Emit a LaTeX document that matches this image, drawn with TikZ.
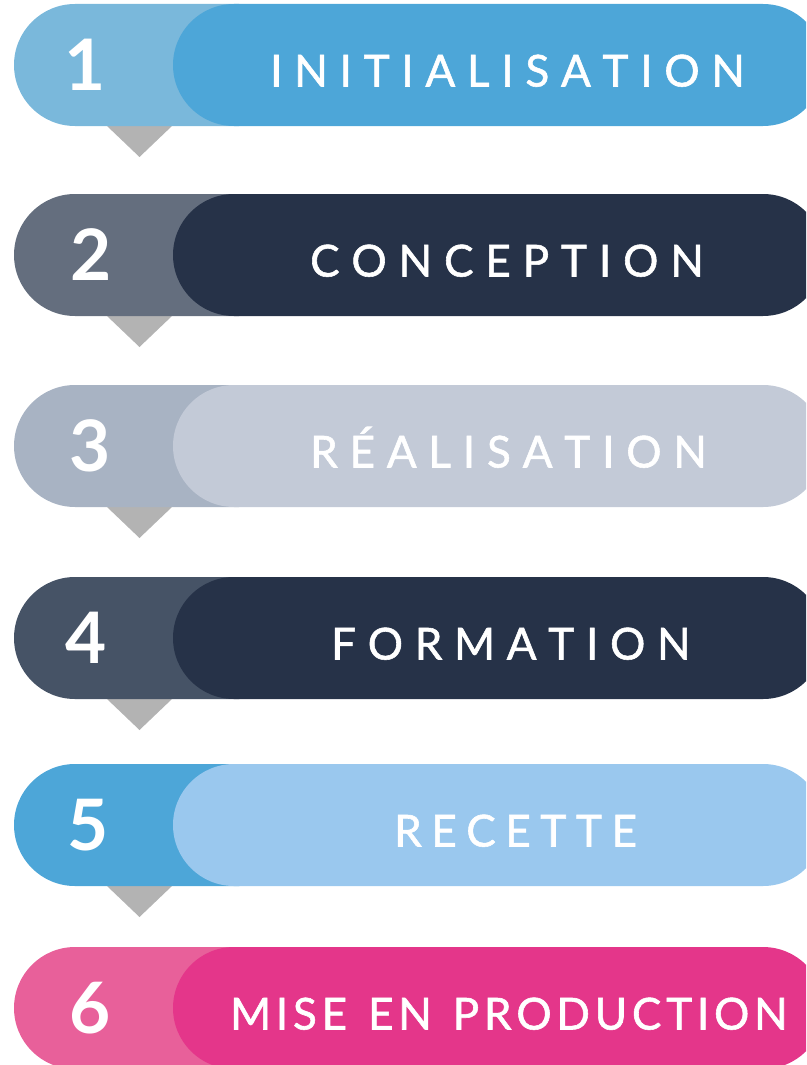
\documentclass[tikz,border=0pt]{standalone}
\usepackage{fontspec}
\setmainfont{Lato}
\newfontfamily\labfont[FakeBold=1.3]{Lato}
\newfontfamily\numfont{Lato Bold}
\definecolor{c1l}{HTML}{7AB8DB}\definecolor{c1r}{HTML}{4DA6D8}
\definecolor{c2l}{HTML}{646E7E}\definecolor{c2r}{HTML}{263248}
\definecolor{c3l}{HTML}{A8B3C3}\definecolor{c3r}{HTML}{C3CAD7}
\definecolor{c4l}{HTML}{465366}\definecolor{c4r}{HTML}{263248}
\definecolor{c5l}{HTML}{4DA6D8}\definecolor{c5r}{HTML}{9AC8EE}
\definecolor{c6l}{HTML}{E8609A}\definecolor{c6r}{HTML}{E4368A}
\definecolor{tri}{HTML}{B3B3B3}
\makeatletter
\newcount\trk@n
\newdimen\trk@gap
\def\trk@count#1{\ifx\relax#1\else\advance\trk@n\@ne\expandafter\trk@count\fi}
\def\trk@out#1#2{#1\ifx\relax#2\else\hskip\trk@gap\expandafter\trk@out\expandafter#2\fi}
\newcommand\spreadtxt[2]{\setbox0\hbox{#2}\trk@n=0 \trk@count#2\relax
  \trk@gap=\dimexpr(#1pt-\wd0)/\numexpr\trk@n-1\relax\relax
  \trk@out#2\relax}
\makeatother
\begin{document}
\begin{tikzpicture}[x=1pt,y=-1pt,
  pill/.style={rounded corners=61pt},
  numtext/.style={text=white,font=\numfont\fontsize{71}{71}\selectfont,inner sep=0pt},
  labtext/.style={text=white,font=\labfont\fontsize{44}{44}\selectfont,inner sep=0pt,anchor=base west}]
\useasboundingbox (0,0) rectangle (806,1065);
\clip (0,0) rectangle (806,1065);
\newcommand\myrow[8]{%
  % #1 index, #2 top, #3 number, #4 number x, #5 text left, #6 text width, #7 text, #8 triangle?
  \ifnum#8=1
    \fill[tri] (107,#2+122) -- (172,#2+122) -- (139.5,#2+153) -- cycle;
  \fi
  \fill[c#1l,pill] (14,#2) rectangle (300,#2+122);
  \fill[c#1r,pill] (173,#2) rectangle (824,#2+122);
  \node[numtext] (num#1) at (#4,#2+61) {#3};
  \node[labtext] (lab#1) at (#5,#2+82.5) {\spreadtxt{#6}{#7}};
}
\myrow{1}{4}{1}{85.5}{270}{471}{INITIALISATION}{1}
\myrow{2}{194}{2}{91}{310}{393}{CONCEPTION}{1}
\myrow{3}{385}{3}{90}{310}{393}{RÉALISATION}{1}
\myrow{4}{577}{4}{86}{331}{356}{FORMATION}{1}
\myrow{5}{764}{5}{88}{394}{242}{RECETTE}{1}
\myrow{6}{947}{6}{90}{230}{557}{MISE~EN~PRODUCTION}{0}
\end{tikzpicture}
\end{document}
